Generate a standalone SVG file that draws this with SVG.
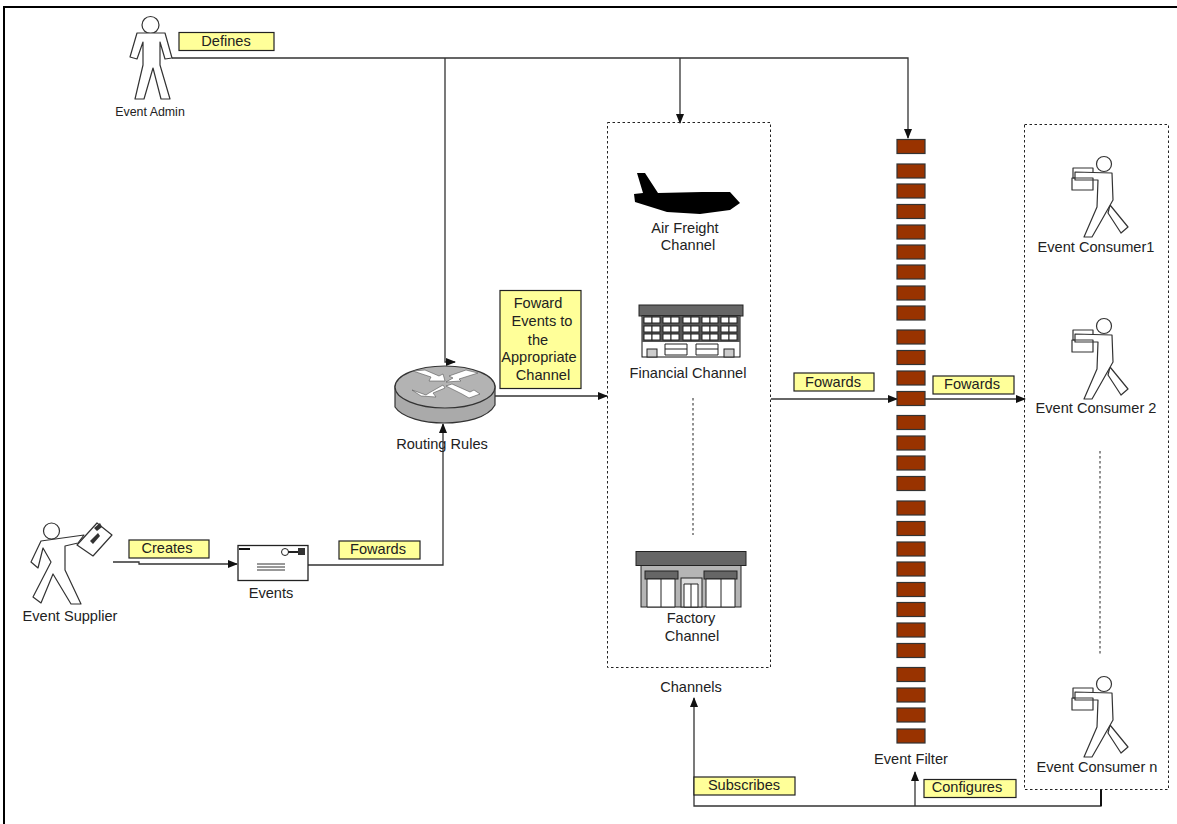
<svg xmlns="http://www.w3.org/2000/svg" width="1177" height="824" viewBox="0 0 1177 824">
<style>
text{font-family:"Liberation Sans",Arial,sans-serif;font-size:14.6px;fill:#222;text-anchor:middle}
.lbl{fill:#ffff99;stroke:#222;stroke-width:1.2}
.ln{fill:none;stroke:#333;stroke-width:1.3}
.dash{fill:none;stroke:#222;stroke-width:1;stroke-dasharray:2.5 2.5}
.fig{fill:#fff;stroke:#333;stroke-width:1.2;stroke-linejoin:round}
.brick{fill:#993300;stroke:#333;stroke-width:1.2}
.w{fill:#fff;stroke:#222;stroke-width:1}
</style>
<defs>
<marker id="arr" markerWidth="10" markerHeight="8" refX="9" refY="4" orient="auto" markerUnits="userSpaceOnUse"><path d="M0 0L10 4L0 8Z" fill="#111"/></marker>
<rect id="b" class="brick" x="897" y="0" width="28" height="14"/>
<g id="win"><rect class="w" x="0" y="0" width="8" height="6"/><rect class="w" x="8" y="0" width="8" height="6"/></g>
<g id="winrow"><use href="#win" x="644"/><use href="#win" x="663"/><use href="#win" x="683"/><use href="#win" x="702"/><use href="#win" x="721"/></g>
<g id="consumer">
<path class="fig" d="M1073 168H1093V178H1073Z"/>
<circle cx="1104" cy="164" r="7.500" class="fig"/>
<path class="fig" d="M1110 205L1128 227L1121 233L1108 213Z"/>
<path class="fig" d="M1075 172L1112 173L1113 200L1100 223L1092 237H1084L1097 207L1098 180H1075Z"/>
<path class="fig" d="M1072 178H1093V190H1072Z" fill-opacity="0"/>
</g>
</defs>
<rect x="4" y="7" width="1180" height="830" fill="#fff" stroke="#000" stroke-width="2"/>

<g id="connectors">
<path class="ln" d="M172 58H908V138" marker-end="url(#arr)"/>
<path class="ln" d="M445 58V362H455" marker-end="url(#arr)"/>
<path class="ln" d="M680 58V123" marker-end="url(#arr)"/>
<path class="ln" d="M113 562H139V564H237" marker-end="url(#arr)"/>
<path class="ln" d="M308 565H443V424" marker-end="url(#arr)"/>
<path class="ln" d="M494 396H607" marker-end="url(#arr)"/>
<path class="ln" d="M771 399H897" marker-end="url(#arr)"/>
<path class="ln" d="M925 399H1025" marker-end="url(#arr)"/>
<path class="ln" d="M1101 789V806H694V698" marker-end="url(#arr)"/>
<path class="ln" d="M915 806V772" marker-end="url(#arr)"/>
<path d="M1101 789V806" fill="none" stroke="#111" stroke-width="2"/>
<path class="dash" d="M693 398V535"/>
<path class="dash" d="M1100 451V655"/>
</g>

<g id="channels-box"><rect class="dash" x="607.500" y="122.500" width="163" height="545"/><text x="691" y="692">Channels</text></g>
<g id="consumers-box"><rect class="dash" x="1024.500" y="124.500" width="144" height="665"/></g>

<g id="event-admin">
<circle cx="150.500" cy="25" r="8.500" class="fig"/>
<path class="fig" d="M137 33H165L172 58L165 59L160 42V65L170 99H161L153 68L144 99H135L143 65V42L137 59L130 57Z"/>
<text x="150" y="116" style="font-size:12.400px">Event Admin</text>
</g>
<g id="label-defines"><rect class="lbl" x="179" y="32.500" width="95" height="18"/><text x="226" y="46">Defines</text></g>

<g id="event-supplier">
<circle cx="51.500" cy="531" r="8" class="fig"/>
<path class="fig" d="M41 541L84 535L78 543L65 546V570L81 604H71L53 574L41 603L33 597L51 562L43 548L38 568L31 562Z"/>
<path class="fig" d="M77 545L97 523L112 535L93 556Z"/>
<path d="M94 528L100 523L102 527L97 531Z M90 541L98 533L100 536L93 544Z" fill="#333"/>
<text x="70" y="621">Event Supplier</text>
</g>
<g id="label-creates"><rect class="lbl" x="129" y="540" width="80" height="18"/><text x="167" y="553">Creates</text></g>

<g id="events">
<rect x="238" y="545.500" width="70" height="35" fill="#fff" stroke="#222" stroke-width="1.3"/>
<path d="M239 549H250" stroke="#111" stroke-width="2"/>
<path d="M257 564H285M257 567H285M257 570H285" stroke="#333" stroke-width="1"/>
<circle cx="285" cy="552" r="3.500" fill="#fff" stroke="#222"/>
<path d="M288 552H300" stroke="#222" stroke-width="2"/>
<rect x="298" y="548" width="7" height="7" fill="#333"/>
<text x="271" y="598">Events</text>
</g>
<g id="label-fowards-1"><rect class="lbl" x="339" y="541" width="81" height="18"/><text x="378" y="554">Fowards</text></g>

<g id="routing-rules">
<path d="M395 386V407C402 418 425 423 444 423C465 423 488 418 495 405V386Z" fill="#aaa" stroke="#333" stroke-width="1.2"/>
<ellipse cx="445" cy="387" rx="50" ry="21" fill="#b3b3b3" stroke="#333" stroke-width="1.2"/>
<path d="M413 371L425 370L439 376L443 374L445 381L429 381L431 377Z M478 373L466 370L449 376L453 378L446 382L461 381L459 379Z M412 390L426 395L429 393L443 385L445 388L433 393L436 397L421 396Z M446 386L452 384L470 392L474 390L480 394L469 398L462 394Z" fill="#fff" stroke="#555" stroke-width=".6"/>
<text x="442" y="449">Routing Rules</text>
</g>
<g id="label-forward"><rect x="500" y="290.500" width="81" height="98" class="lbl"/>
<text x="538" y="308">Foward</text><text x="542" y="326">Events to</text><text x="538" y="345">the</text><text x="539" y="362">Appropriate</text><text x="543" y="380">Channel</text></g>

<g id="air-freight">
<path d="M637 173H645L658 193L702 192L730 192L740 203L730 210L700 214L667 212L635 202L634 194L643 193Z" fill="#000"/>
<text x="685" y="233">Air Freight</text><text x="688" y="250">Channel</text>
</g>
<g id="financial">
<rect x="639" y="305" width="104" height="11" fill="#666" stroke="#222"/>
<rect x="642" y="316" width="98" height="41" fill="#fff" stroke="#111"/>
<rect x="642" y="316" width="98" height="26" fill="#555"/>
<use href="#winrow" y="317"/><use href="#winrow" y="326"/><use href="#winrow" y="334"/>
<path d="M665 344H687V355H665ZM696 344H718V355H696Z" fill="#fff" stroke="#222"/>
<path d="M665 349H687M696 349H718" stroke="#222"/>
<rect x="647" y="349" width="10" height="8" fill="#ccc" stroke="#222"/><rect x="724" y="349" width="10" height="8" fill="#ccc" stroke="#222"/>
<text x="688" y="378">Financial Channel</text>
</g>
<g id="factory">
<rect x="641" y="562" width="100" height="45" fill="#b5b5b5" stroke="#222"/>
<rect x="636" y="551.500" width="110" height="14" fill="#666" stroke="#222"/>
<rect x="645" y="571" width="33" height="8" fill="#666" stroke="#222"/><rect x="704" y="571" width="33" height="8" fill="#666" stroke="#222"/>
<path d="M647 579H675V607H647ZM706 579H735V607H706Z M661 579V607M721 579V607" fill="#fff" stroke="#222"/>
<rect x="681" y="578" width="21" height="29" fill="#ddd" stroke="#222"/>
<path d="M684 584H698V607H684ZM691 584V607" fill="#fff" stroke="#222"/>
<text x="691" y="623">Factory</text><text x="692" y="641">Channel</text>
</g>

<g id="event-filter">
<use href="#b" y="139.500"/><use href="#b" y="164"/><use href="#b" y="184"/><use href="#b" y="204.500"/><use href="#b" y="225"/><use href="#b" y="245"/><use href="#b" y="265"/><use href="#b" y="286"/><use href="#b" y="306"/>
<use href="#b" y="330"/><use href="#b" y="350.500"/><use href="#b" y="371"/><use href="#b" y="391.500"/><use href="#b" y="415.500"/><use href="#b" y="436"/><use href="#b" y="456"/><use href="#b" y="476.500"/><use href="#b" y="501"/><use href="#b" y="521.500"/><use href="#b" y="542"/><use href="#b" y="562"/><use href="#b" y="582.500"/><use href="#b" y="602.500"/><use href="#b" y="623"/><use href="#b" y="643.500"/><use href="#b" y="667.500"/><use href="#b" y="688"/><use href="#b" y="708"/><use href="#b" y="729"/>
<text x="911" y="764">Event Filter</text>
</g>
<g id="label-fowards-2"><rect class="lbl" x="794" y="373" width="80" height="18"/><text x="833" y="387">Fowards</text></g>
<g id="label-fowards-3"><rect class="lbl" x="933" y="376" width="81" height="18"/><text x="972" y="389">Fowards</text></g>
<g id="label-subscribes"><rect class="lbl" x="694" y="777" width="101" height="18"/><text x="744" y="790">Subscribes</text></g>
<g id="label-configures"><rect class="lbl" x="924" y="779.500" width="92" height="18"/><text x="967" y="792">Configures</text></g>

<g id="consumer-1"><use href="#consumer"/><text x="1096" y="252">Event Consumer1</text></g>
<g id="consumer-2"><use href="#consumer" y="162"/><text x="1096" y="413">Event Consumer 2</text></g>
<g id="consumer-n"><use href="#consumer" y="520"/><text x="1097" y="772">Event Consumer n</text></g>
</svg>
